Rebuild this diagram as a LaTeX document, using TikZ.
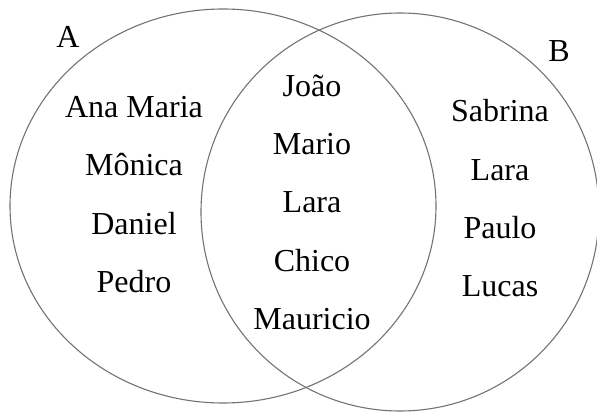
\documentclass[tikz,border=0pt]{standalone}
\usepackage{fontspec}
\setmainfont{Liberation Serif}
\begin{document}
\begin{tikzpicture}[x=1pt,y=-1pt,
	set line/.style={draw=black!55, line width=1.1pt},
	member/.style={font=\fontsize{32}{38}\selectfont, inner sep=0pt, anchor=base}]
	\useasboundingbox (0,0) rectangle (597,414);

	% sets
	\draw[set line] (223,206) ellipse [x radius=213, y radius=197];
	\draw[set line] (400,212) circle [radius=199];
	\node[member] (labelA) at (68,48) {A};
	\node[member] (labelB) at (559,62) {B};

	% only in A
	\foreach \y/\name/\id in {118/Ana Maria/a1, 176/Mônica/a2, 234/Daniel/a3, 292/Pedro/a4}
		\node[member] (\id) at (134,\y) {\name};

	% in both
	\foreach \y/\name/\id in {97/João/c1, 155/Mario/c2, 213/Lara/c3, 271/Chico/c4, 329/Mauricio/c5}
		\node[member] (\id) at (312,\y) {\name};

	% only in B
	\foreach \y/\name/\id in {122/Sabrina/b1, 181/Lara/b2, 238/Paulo/b3, 296/Lucas/b4}
		\node[member] (\id) at (500,\y) {\name};
\end{tikzpicture}
\end{document}
